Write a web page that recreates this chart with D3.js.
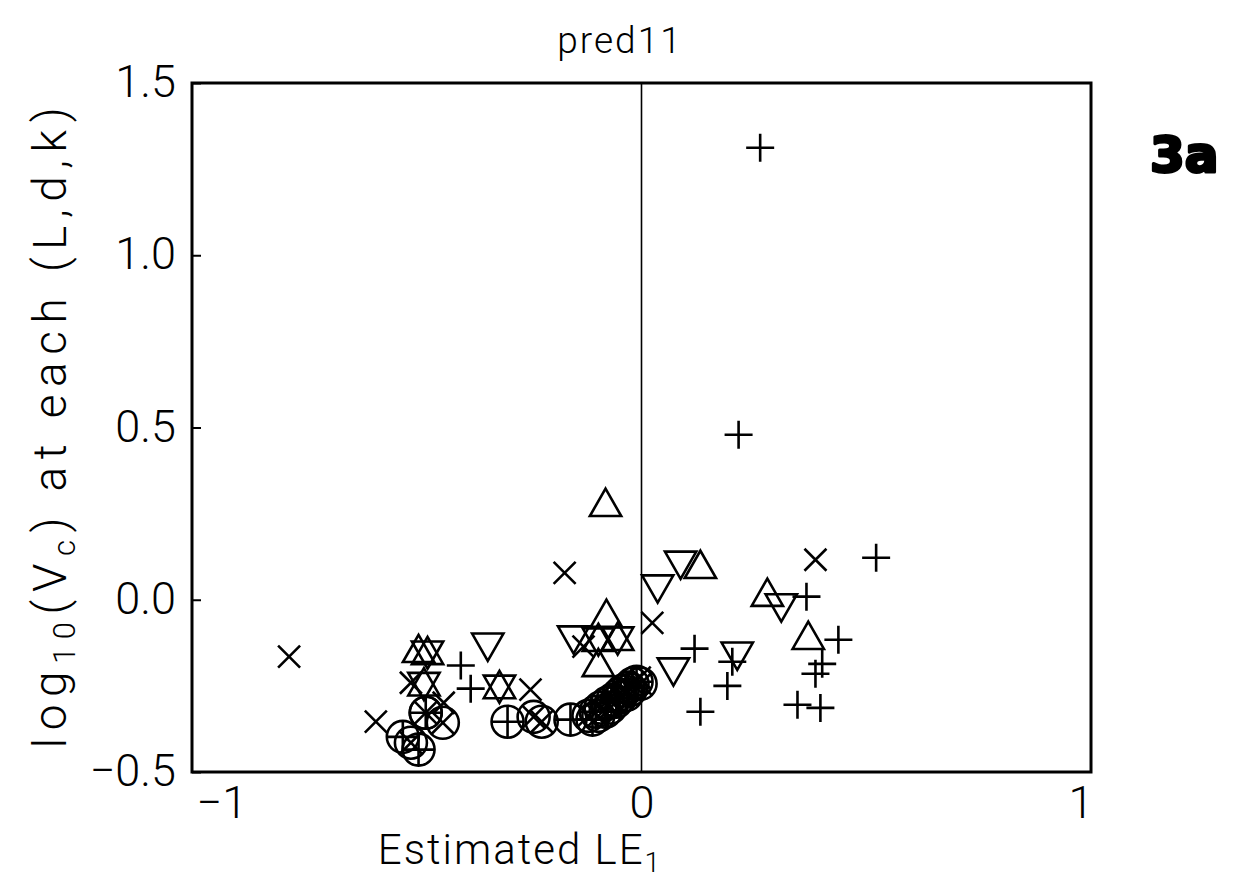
<!DOCTYPE html>
<html>
<head>
<meta charset="utf-8">
<script src="https://cdn.jsdelivr.net/npm/d3@7"></script>
<style>
  html, body { margin: 0; padding: 0; background: #fff; }
  svg { display: block; }
  text { font-family: Roboto, "Liberation Sans", sans-serif; font-weight: 300; fill: #000; }
</style>
</head>
<body>
<svg id="chart" width="1237" height="894"></svg>
<script>
// Estimated LE1 (x) vs log10(Vc) (y), one array per plotting symbol
const plusPts = [
  [0.264, 1.312], [0.216, 0.479], [0.522, 0.122], [0.367, 0.009],
  [0.438, -0.116], [0.402, -0.186], [0.387, -0.215], [0.347, -0.305],
  [0.398, -0.314], [0.202, -0.180], [0.191, -0.250], [0.118, -0.142],
  [0.131, -0.325], [-0.402, -0.191], [-0.380, -0.258]
];
const crossPts = [
  [-0.784, -0.165], [-0.591, -0.354], [-0.171, 0.078], [-0.247, -0.261],
  [0.387, 0.116], [0.024, -0.067], [-0.513, -0.241], [-0.440, -0.299],
  [-0.129, -0.136], [-0.004, -0.226]
];
const triUpPts = [
  [-0.080, 0.276], [0.131, 0.096], [0.280, 0.015], [0.371, -0.110],
  [-0.078, -0.046], [-0.096, -0.189], [-0.496, -0.148],
  [-0.096, -0.116], [-0.053, -0.113], [-0.316, -0.253],
  [-0.476, -0.154], [-0.484, -0.245]
];
const triDownPts = [
  [0.087, 0.107], [0.036, 0.038], [0.311, -0.017], [0.213, -0.157],
  [0.071, -0.203], [-0.342, -0.131], [-0.151, -0.110],
  [-0.096, -0.116], [-0.053, -0.113], [-0.316, -0.253],
  [-0.476, -0.154], [-0.484, -0.245]
];
const circlePlusPts = [
  [-0.298, -0.354], [-0.158, -0.348], [-0.109, -0.348], [-0.102, -0.325],
  [-0.080, -0.325], [-0.076, -0.299], [-0.056, -0.296], [-0.051, -0.276],
  [-0.033, -0.276], [-0.029, -0.255], [-0.011, -0.238],
  [-0.480, -0.328], [-0.531, -0.398], [-0.496, -0.435]
];
const circleCrossPts = [
  [-0.240, -0.340], [-0.222, -0.354], [-0.118, -0.337], [-0.096, -0.337],
  [-0.091, -0.313], [-0.069, -0.313], [-0.064, -0.290], [-0.047, -0.284],
  [-0.042, -0.264], [-0.024, -0.261], [-0.020, -0.244], [-0.002, -0.244],
  [-0.442, -0.357], [-0.513, -0.415], [-0.480, -0.328]
];
const xTicks = [-1, 0, 1];
const yTicks = [-0.5, 0.0, 0.5, 1.0, 1.5];

const svg = d3.select("#chart");
const plotL = 192, plotR = 1091, plotT = 83, plotB = 772;

const x = d3.scaleLinear().domain([-1, 1]).range([plotL, plotR]);
const y = d3.scaleLinear().domain([-0.5, 1.5]).range([plotB, plotT]);

// y axis: inward ticks, one-decimal labels
const yAxis = svg.append("g")
  .attr("transform", `translate(${plotL},0)`)
  .call(d3.axisLeft(y).tickValues(yTicks).tickFormat(d3.format(".1f"))
    .tickSizeInner(-9).tickSizeOuter(0).tickPadding(16));
yAxis.select(".domain").remove();
yAxis.selectAll(".tick line").attr("stroke", "#000").attr("stroke-width", 2);
yAxis.selectAll(".tick text")
  .style("font-size", "45px").attr("dy", "0.3em").attr("x", -16);

// x axis
const xAxis = svg.append("g")
  .attr("transform", `translate(0,${plotB})`)
  .call(d3.axisBottom(x).tickValues(xTicks).tickFormat(d3.format("d"))
    .tickSizeInner(0).tickSizeOuter(0).tickPadding(14));
xAxis.select(".domain").remove();
xAxis.selectAll(".tick text")
  .style("font-size", "45px")
  .attr("dy", "0.72em")
  .attr("text-anchor", d => d === -1 ? "start" : d === 1 ? "end" : "middle")
  .attr("dx", d => d === -1 ? "4" : d === 1 ? "2" : "0");

// zero line
svg.append("line")
  .attr("x1", x(0)).attr("x2", x(0))
  .attr("y1", y(1.5)).attr("y2", y(-0.5))
  .attr("stroke", "#000").attr("stroke-width", 1.6);

// frame
svg.append("rect")
  .attr("x", plotL).attr("y", plotT)
  .attr("width", plotR - plotL).attr("height", plotB - plotT)
  .attr("fill", "none").attr("stroke", "#000").attr("stroke-width", 3);

// symbols
const marks = svg.append("g").attr("fill", "none").attr("stroke", "#000").attr("stroke-width", 2.6);
const plusPath = s => `M${-s},0H${s}M0,${-s}V${s}`;
const crossPath = s => `M${-s},${-s}L${s},${s}M${-s},${s}L${s},${-s}`;
const triUp = s => `M0,${-s * 1.1}L${s * 1.08},${s * 0.78}L${-s * 1.08},${s * 0.78}Z`;
const triDown = s => `M0,${s * 1.1}L${s * 1.08},${-s * 0.78}L${-s * 1.08},${-s * 0.78}Z`;

function drawSet(data, pathFn) {
  marks.selectAll(null).data(data).enter().append("path")
    .attr("transform", d => `translate(${x(d[0])},${y(d[1])})`)
    .attr("d", pathFn);
}
drawSet(plusPts, () => plusPath(14));
drawSet(crossPts, () => crossPath(11));
drawSet(triUpPts, () => triUp(14.5));
drawSet(triDownPts, () => triDown(14.5));
marks.selectAll(null).data(circlePlusPts.concat(circleCrossPts)).enter().append("circle")
  .attr("cx", d => x(d[0])).attr("cy", d => y(d[1])).attr("r", 16);
drawSet(circlePlusPts, () => plusPath(16));
drawSet(circleCrossPts, () => crossPath(11.3));

// title
svg.append("text")
  .attr("x", 620).attr("y", 53)
  .attr("text-anchor", "middle")
  .style("font-size", "37px").style("letter-spacing", "2px")
  .text("pred11");

// x title
const xt = svg.append("text")
  .attr("x", 520).attr("y", 864)
  .attr("text-anchor", "middle")
  .style("font-size", "42px").style("letter-spacing", "2px");
xt.append("tspan").text("Estimated LE");
xt.append("tspan").attr("dy", "8").style("font-size", "28px").text("1");

// y title
const yt = svg.append("text")
  .attr("transform", "translate(66,424) rotate(-90)")
  .attr("text-anchor", "middle")
  .style("font-size", "46px").style("letter-spacing", "7.5px");
yt.append("tspan").text("log");
yt.append("tspan").attr("dy", "9").style("font-size", "31px").text("10");
yt.append("tspan").attr("dy", "-9").text("(V");
yt.append("tspan").attr("dy", "9").style("font-size", "31px").text("c");
yt.append("tspan").attr("dy", "-9").text(") at each (L,d,k)");

// panel tag
svg.append("text")
  .attr("x", 1150).attr("y", 172)
  .style("font-family", "'DejaVu Sans', sans-serif")
  .style("font-weight", "bold")
  .style("font-size", "50px")
  .attr("stroke", "#000").attr("stroke-width", 3).attr("stroke-linejoin", "round")
  .text("3a");
</script>
</body>
</html>
